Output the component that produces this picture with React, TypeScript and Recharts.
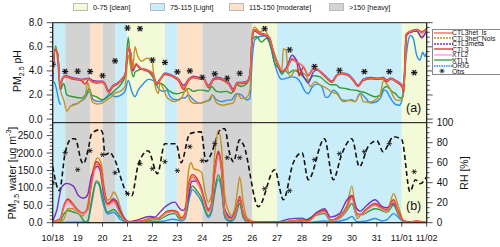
import React from "react";
import { ComposedChart, Line, Scatter, XAxis, YAxis, ReferenceArea } from "recharts";

type P = [number, number | null];

// x axis: days since 10/18 00:00
const dayTicks = [0, 1, 2, 3, 4, 5, 6, 7, 8, 9, 10, 11, 12, 13, 14, 15];
const dayLabels = ["10/18", "19", "20", "21", "22", "23", "24", "25", "26", "27", "28", "29", "30", "31", "11/01", "11/02"];

const phMajor = [0, 2, 4, 6, 8];
const phMinor = [0, 0.4, 0.8, 1.2, 1.6, 2, 2.4, 2.8, 3.2, 3.6, 4, 4.4, 4.8, 5.2, 5.6, 6, 6.4, 6.8, 7.2, 7.6, 8];
const waterMajor = [0, 50, 100, 150, 200, 250];
const waterMinor = [0, 10, 20, 30, 40, 50, 60, 70, 80, 90, 100, 110, 120, 130, 140, 150, 160, 170, 180, 190, 200, 210, 220, 230, 240, 250, 260, 270, 280];
const rhMajor = [0, 20, 40, 60, 80, 100];
const rhMinor = [0, 5, 10, 15, 20, 25, 30, 35, 40, 45, 50, 55, 60, 65, 70, 75, 80, 85, 90, 95, 100];

// pollution level bands: [start day, end day, level]
const bands: [number, number, string][] = [
  [0, 0.5, "light"], [0.5, 1.5, "heavy"], [1.5, 2, "moderate"], [2, 2.5, "heavy"],
  [2.5, 3, "light"], [3, 4.5, "clean"], [4.5, 5, "light"], [5, 6, "moderate"],
  [6, 8, "heavy"], [8, 9, "clean"], [9, 14, "light"], [14, 15, "clean"],
];
const bandColors: Record<string, string> = { clean: "#f3fad7", light: "#c9eefa", moderate: "#fde2c9", heavy: "#d3d3d3" };
const bandLegend = [
  { key: "clean", label: "0-75 [clean]", x: 73 },
  { key: "light", label: "75-115 [Light]", x: 150 },
  { key: "moderate", label: "115-150 [moderate]", x: 229 },
  { key: "heavy", label: ">150 [heavy]", x: 329 },
];

// ---- PM2.5 pH ----
const phLs: P[] = [[0,3.9],[0.1,5.85],[0.2,5.45],[0.3,2.6],[0.38,3.3],[0.5,3.55],[0.75,3.4],[1,3.3],[1.2,3.25],[1.45,3.35],[1.6,3.1],[1.8,3.05],[2,3.1],[2.1,2.85],[2.25,2.25],[2.4,2.7],[2.6,2.95],[2.8,3.35],[2.92,3.8],[3.03,6.0],[3.12,5.6],[3.22,4.2],[3.35,4.6],[3.5,4.25],[3.7,4.1],[3.9,3.95],[4.03,3.65],[4.17,2.95],[4.3,3.25],[4.5,3.75],[4.7,3.65],[4.9,3.45],[5.05,3.25],[5.25,2.6],[5.45,3.25],[5.65,3.5],[5.85,3.4],[6.05,3.35],[6.25,2.7],[6.45,3.3],[6.65,3.4],[6.85,3.25],[7.05,2.95],[7.25,2.4],[7.4,3.0],[7.6,3.0],[7.8,3.1],[7.92,3.8],[8,6.7],[8.1,7.4],[8.3,7.1],[8.5,7.0],[8.7,6.7],[8.85,5.6],[9,4.7],[9.2,4.0],[9.4,4.3],[9.6,5.0],[9.8,4.7],[10.05,4.35],[10.25,3.65],[10.45,4.2],[10.6,4.15],[10.8,3.8],[11,3.4],[11.2,3.1],[11.4,3.65],[11.6,3.8],[11.85,3.65],[12.05,3.25],[12.25,2.75],[12.45,3.25],[12.75,3.4],[13.05,3.35],[13.25,3.4],[13.4,3.2],[13.55,3.35],[13.8,3.1],[14,2.8],[14.08,2.4],[14.18,7.0],[14.35,7.25],[14.6,7.4],[14.8,7.2],[15,7.5]];
const phCtl3: P[] = [[0,3.8],[0.1,5.8],[0.2,5.4],[0.3,2.55],[0.38,3.25],[0.5,3.5],[0.75,3.35],[1,3.25],[1.15,3.2],[1.3,2.9],[1.45,3.3],[1.6,3.05],[1.8,3.0],[2,3.05],[2.1,2.8],[2.25,2.2],[2.4,2.65],[2.6,2.9],[2.8,3.3],[2.92,3.75],[3.03,5.95],[3.12,5.55],[3.22,4.15],[3.35,4.55],[3.5,4.2],[3.7,4.05],[3.9,3.9],[4.03,3.6],[4.17,2.9],[4.3,3.2],[4.5,3.7],[4.7,3.6],[4.9,3.4],[5.05,3.15],[5.25,2.45],[5.45,3.2],[5.65,3.45],[5.85,3.35],[6.05,3.3],[6.25,2.6],[6.45,3.25],[6.65,3.35],[6.85,3.2],[7.05,2.9],[7.25,2.3],[7.4,2.95],[7.6,2.95],[7.8,3.05],[7.92,3.75],[8,6.75],[8.1,7.45],[8.3,7.15],[8.5,7.05],[8.7,6.75],[8.85,5.6],[9,4.65],[9.2,3.95],[9.4,4.25],[9.6,4.95],[9.8,4.65],[9.88,3.6],[10.05,4.3],[10.25,3.6],[10.45,4.15],[10.6,4.1],[10.8,3.75],[11,3.35],[11.2,3.05],[11.4,3.6],[11.6,3.75],[11.85,3.6],[12.05,3.2],[12.25,2.7],[12.45,3.2],[12.75,3.35],[13.05,3.3],[13.25,3.35],[13.4,3.1],[13.55,3.3],[13.8,3.05],[14,2.7],[14.08,2.25],[14.18,7.05],[14.35,7.3],[14.6,7.45],[14.8,7.25],[15,7.55]];
const phXtl2: P[] = [[0,3.7],[0.1,5.75],[0.2,5.4],[0.3,2.7],[0.38,3.4],[0.5,3.6],[0.75,3.45],[1,3.35],[1.2,3.3],[1.45,3.4],[1.6,3.15],[1.8,3.1],[2,3.15],[2.1,2.9],[2.25,2.35],[2.4,2.75],[2.6,3.0],[2.8,3.4],[2.92,3.85],[3.03,5.9],[3.12,5.5],[3.22,4.25],[3.35,4.6],[3.5,4.3],[3.7,4.15],[3.9,4.0],[4.03,3.7],[4.17,3.0],[4.3,3.3],[4.5,3.8],[4.7,3.7],[4.9,3.5],[5.05,3.3],[5.25,2.7],[5.45,3.3],[5.65,3.55],[5.85,3.45],[6.05,3.4],[6.25,2.75],[6.45,3.35],[6.65,3.45],[6.85,3.3],[7.05,3.0],[7.25,2.45],[7.4,3.05],[7.6,3.05],[7.8,3.15],[7.92,3.85],[8,6.6],[8.1,7.3],[8.3,7.05],[8.5,6.95],[8.7,6.65],[8.85,5.55],[9,4.7],[9.2,4.05],[9.4,4.35],[9.6,5.05],[9.8,4.75],[10.05,4.4],[10.25,3.7],[10.45,4.25],[10.6,4.2],[10.8,3.85],[11,3.45],[11.2,3.15],[11.4,3.7],[11.6,3.85],[11.85,3.7],[12.05,3.3],[12.25,2.8],[12.45,3.3],[12.75,3.45],[13.05,3.4],[13.25,3.45],[13.4,3.25],[13.55,3.4],[13.8,3.15],[14,2.85],[14.08,2.45],[14.18,6.95],[14.35,7.2],[14.6,7.35],[14.8,7.1],[15,7.4]];
const phMeta: P[] = [[0,3.2],[0.1,5.7],[0.2,5.4],[0.3,2.7],[0.38,3.35],[0.5,3.6],[0.75,3.45],[1,3.35],[1.2,3.3],[1.45,3.4],[1.6,3.2],[1.8,3.15],[2,3.15],[2.1,2.95],[2.25,2.35],[2.4,2.75],[2.6,3.0],[2.8,3.4],[2.92,3.85],[3.03,5.9],[3.12,5.5],[3.22,4.0],[3.35,4.5],[3.5,4.2],[3.7,4.1],[3.9,3.95],[4.03,3.7],[4.17,3.0],[4.3,3.3],[4.5,3.8],[4.7,3.7],[4.9,3.5],[5.05,3.3],[5.25,2.8],[5.45,3.3],[5.65,3.55],[5.85,3.45],[6.05,3.4],[6.25,2.8],[6.45,3.35],[6.65,3.45],[6.85,3.3],[7.05,3.05],[7.25,2.5],[7.4,3.05],[7.6,3.05],[7.8,3.15],[7.92,3.85],[8,6.6],[8.1,7.3],[8.3,7.05],[8.5,6.95],[8.7,6.6],[8.85,5.5],[9,4.6],[9.2,3.9],[9.4,4.4],[9.6,5.3],[9.8,4.8],[10.05,3.6],[10.25,3.0],[10.45,3.9],[10.6,4.1],[10.8,3.85],[11,3.45],[11.2,3.15],[11.4,3.7],[11.6,3.8],[11.85,3.7],[12.05,3.3],[12.25,2.8],[12.45,3.3],[12.75,3.45],[13.05,3.4],[13.25,3.45],[13.4,3.25],[13.55,3.4],[13.8,3.15],[14,2.85],[14.08,2.5],[14.18,6.9],[14.35,7.2],[14.6,7.3],[14.8,6.75],[15,7.35]];
const phNols: P[] = [[0,3.7],[0.1,5.8],[0.2,5.3],[0.3,2.5],[0.44,1.6],[0.57,0.65],[0.7,1.05],[0.9,1.2],[1.1,1.45],[1.3,1.85],[1.4,3.0],[1.48,2.5],[1.58,1.45],[1.78,1.25],[1.97,1.3],[2.17,1.6],[2.37,1.85],[2.5,2.15],[2.7,2.3],[2.9,2.7],[3.03,5.3],[3.13,4.3],[3.2,3.9],[3.3,6.0],[3.4,5.3],[3.57,4.8],[3.77,5.05],[3.97,4.95],[4.1,2.85],[4.24,2.15],[4.3,3.0],[4.44,2.5],[4.57,1.85],[4.7,1.6],[4.9,1.45],[5.15,1.7],[5.37,2.5],[5.5,1.6],[5.7,1.3],[5.97,1.35],[6.24,1.55],[6.4,2.0],[6.57,1.35],[6.84,1.15],[7.04,1.25],[7.24,1.35],[7.41,2.1],[7.57,1.7],[7.78,1.8],[7.91,2.4],[8,7.1],[8.1,7.65],[8.3,7.25],[8.5,7.4],[8.7,6.6],[8.9,5.4],[9.03,4.7],[9.19,4.05],[9.25,5.85],[9.36,5.7],[9.42,4.3],[9.52,3.5],[9.72,4.05],[9.92,4.1],[10.05,3.8],[10.19,3.5],[10.32,2.7],[10.52,3.1],[10.72,2.85],[10.99,2.55],[11.19,2.25],[11.39,2.1],[11.66,1.45],[11.92,1.55],[12.12,1.45],[12.33,2.1],[12.46,1.45],[12.66,1.4],[12.86,1.5],[13.13,2.0],[13.27,3.2],[13.37,3.0],[13.53,2.5],[13.66,1.9],[13.8,1.55],[14,1.6],[14.13,3.8],[14.2,7.0],[14.4,7.3],[14.6,7.35],[14.8,6.85],[15,7.3]];
const phXtl1: P[] = [[0,4.0],[0.12,6.1],[0.22,4.4],[0.3,2.4],[0.44,2.95],[0.57,2.0],[0.83,1.85],[1.16,1.75],[1.36,2.15],[1.47,2.55],[1.56,2.0],[1.76,1.85],[1.96,1.6],[2.17,1.8],[2.3,2.0],[2.5,2.4],[2.7,2.8],[2.9,3.5],[3.03,6.8],[3.13,4.35],[3.24,3.5],[3.3,3.9],[3.43,4.05],[3.64,4.2],[3.84,3.95],[4.04,3.4],[4.17,2.85],[4.28,3.0],[4.44,2.85],[4.57,2.55],[4.7,2.3],[4.97,2.1],[5.17,2.2],[5.3,2.3],[5.44,2.55],[5.64,2.3],[5.84,2.4],[6.04,2.4],[6.24,2.3],[6.37,2.7],[6.57,2.3],[6.77,2.25],[6.97,2.3],[7.17,2.15],[7.37,2.85],[7.57,2.7],[7.78,2.95],[7.91,3.5],[8,6.55],[8.17,6.85],[8.37,6.4],[8.57,6.7],[8.78,5.75],[8.9,4.65],[9.05,4.25],[9.19,3.7],[9.32,4.05],[9.45,3.8],[9.65,4.05],[9.85,3.9],[10.05,3.5],[10.25,3.2],[10.45,3.6],[10.72,3.5],[10.95,3.1],[11.15,2.85],[11.35,2.85],[11.52,2.6],[11.72,2.55],[11.92,2.45],[12.12,2.4],[12.33,2.3],[12.53,2.2],[12.73,2.0],[12.93,1.85],[13.13,2.0],[13.27,2.55],[13.4,2.7],[13.6,2.3],[13.73,2.15],[13.93,1.75],[14.06,1.9],[14.17,7.0],[14.4,7.25],[14.6,7.35],[14.8,7.2],[15,7.45]];
const phOrig: P[] = [[0,3.1],[0.08,3.0],[0.16,2.4],[0.27,1.35],[0.33,1.2],[0.5,null],[0.78,1.2],[0.95,1.25],[1.1,1.45],[1.3,1.75],[1.47,2.3],[1.63,1.6],[1.9,1.45],[2.1,1.7],[2.3,2.1],[2.5,1.85],[2.7,1.95],[2.9,2.3],[3.03,3.2],[3.17,2.3],[3.3,1.85],[3.43,2.4],[3.64,2.95],[3.84,3.3],[4.04,3.2],[4.17,2.8],[4.3,2.4],[4.44,2.3],[4.57,2.4],[4.7,1.9],[4.84,1.65],[5.04,1.6],[5.17,1.75],[5.3,1.75],[5.44,2.0],[5.64,1.6],[5.9,1.3],[6.1,1.45],[6.3,1.55],[6.4,2.0],[6.57,1.6],[6.77,1.45],[6.97,1.55],[7.17,1.6],[7.37,2.1],[7.57,2.0],[7.78,1.6],[7.91,1.7],[8,4.9],[8.1,6.55],[8.3,6.85],[8.5,6.9],[8.7,6.3],[8.9,4.6],[9.05,3.65],[9.19,3.3],[9.39,3.4],[9.59,3.5],[9.79,3.4],[9.92,3.1],[10.12,2.3],[10.25,2.1],[10.39,2.6],[10.6,2.9],[10.79,2.7],[10.95,1.8],[11.06,1.85],[11.26,2.4],[11.4,2.2],[11.6,1.6],[11.8,1.55],[12,1.6],[12.13,1.45],[12.33,2.15],[12.53,1.8],[12.73,1.35],[12.93,1.4],[13.13,1.7],[13.3,2.4],[13.4,2.3],[13.53,1.8],[13.73,1.25],[13.9,1.15],[14,1.5],[14.13,4.3],[14.27,6.6],[14.35,6.95],[14.46,6.7],[14.6,5.3],[14.73,4.9],[14.84,5.55],[14.93,5.2],[15,5.6]];
const phObs: P[] = [[0,4.55],[0.5,3.95],[1,3.97],[1.5,3.95],[2,3.6],[2.5,4.83],[3,7.56],[3.5,7.5],[4,4.9],[4.5,4.7],[5,3.92],[5.5,4.0],[6,3.47],[6.5,3.75],[7,3.39],[7.5,3.8],[8.5,7.5],[9.5,5.75],[10.5,4.36],[11.5,4.05],[12.5,3.94],[13.5,3.94],[14.5,3.86]];

// ---- PM2.5 water (ug m-3) ----
const wLs: P[] = [[0,3],[0.3,11],[0.45,47],[0.6,64],[0.8,52],[1,35],[1.2,27],[1.4,38],[1.55,110],[1.75,168],[1.9,158],[2.05,96],[2.2,52],[2.45,62],[2.7,28],[2.9,7],[3.05,2],[3.5,4],[3.8,9],[4,13],[4.2,11],[4.4,21],[4.6,31],[4.8,33],[5,28],[5.15,11],[5.3,21],[5.45,104],[5.6,131],[5.8,119],[5.97,92],[6.1,57],[6.24,33],[6.37,52],[6.5,142],[6.64,195],[6.77,152],[6.9,33],[7.04,14],[7.17,11],[7.3,24],[7.5,71],[7.64,28],[7.78,7],[8,2],[9,1],[9.5,4],[10,7],[10.2,4],[10.6,25],[10.9,33],[11.15,7],[11.5,15],[11.8,43],[12,73],[12.2,25],[12.33,23],[12.6,38],[12.93,52],[13.2,41],[13.4,35],[13.67,63],[13.87,28],[14.07,5],[14.3,1],[14.6,5],[14.8,2],[15,0]];
const wCtl3: P[] = [[0,3],[0.3,12],[0.45,50],[0.6,68],[0.8,55],[1,37],[1.2,28],[1.4,40],[1.55,115],[1.75,175],[1.9,165],[2.05,100],[2.2,55],[2.45,65],[2.7,30],[2.9,8],[3.05,2],[3.5,4],[3.8,10],[4,14],[4.2,12],[4.4,22],[4.6,33],[4.8,35],[5,30],[5.15,12],[5.3,22],[5.45,110],[5.6,138],[5.8,125],[5.97,97],[6.1,60],[6.24,35],[6.37,55],[6.5,150],[6.64,205],[6.77,160],[6.9,35],[7.04,15],[7.17,12],[7.3,25],[7.5,75],[7.64,30],[7.78,8],[8,2],[9,1],[9.5,4],[10,8],[10.2,4],[10.6,26],[10.9,35],[11.15,8],[11.5,16],[11.8,45],[12,78],[12.2,26],[12.33,24],[12.6,40],[12.93,55],[13.2,43],[13.4,37],[13.67,66],[13.87,30],[14.07,5],[14.3,1],[14.6,5],[14.8,2],[15,0]];
const wXtl2: P[] = [[0,2],[0.3,10],[0.45,42],[0.6,58],[0.8,48],[1,32],[1.2,24],[1.4,34],[1.55,100],[1.75,158],[1.9,150],[2.05,90],[2.2,48],[2.45,57],[2.7,26],[2.9,7],[3.05,2],[3.5,3],[3.8,8],[4,12],[4.2,10],[4.4,19],[4.6,29],[4.8,31],[5,26],[5.15,10],[5.3,19],[5.45,96],[5.6,124],[5.8,112],[5.97,86],[6.1,52],[6.24,30],[6.37,48],[6.5,132],[6.64,185],[6.77,144],[6.9,30],[7.04,12],[7.17,10],[7.3,21],[7.5,68],[7.64,26],[7.78,6],[8,2],[9,1],[9.5,3],[10,7],[10.2,3],[10.6,23],[10.9,31],[11.15,6],[11.5,14],[11.8,40],[12,70],[12.2,22],[12.33,21],[12.6,36],[12.93,50],[13.2,39],[13.4,33],[13.67,62],[13.87,27],[14.07,4],[14.3,1],[14.6,4],[14.8,2],[15,0]];
const wMeta: P[] = [[0,5],[0.16,35],[0.36,102],[0.56,113],[0.83,105],[1.03,78],[1.23,70],[1.39,78],[1.56,136],[1.8,162],[1.9,150],[2.03,88],[2.17,55],[2.3,59],[2.43,69],[2.56,62],[2.7,35],[2.9,11],[3.1,3],[3.37,7],[3.64,14],[3.9,18],[4.1,16],[4.3,30],[4.5,45],[4.7,55],[4.9,59],[5.1,40],[5.24,35],[5.44,73],[5.57,118],[5.75,120],[5.9,110],[6.1,64],[6.24,38],[6.37,52],[6.5,150],[6.64,200],[6.77,155],[6.9,38],[7.04,20],[7.17,15],[7.3,28],[7.5,65],[7.64,28],[7.78,8],[8,2],[9,2],[9.5,11],[10,13],[10.2,8],[10.6,30],[10.9,40],[11.15,16],[11.5,26],[11.8,65],[12,78],[12.2,40],[12.33,33],[12.6,50],[12.93,66],[13.2,47],[13.4,43],[13.67,55],[13.87,30],[14.07,6],[14.3,2],[15,0]];
const wNols: P[] = [[0,3],[0.3,3],[0.45,10],[0.6,40],[0.8,40],[1,30],[1.2,20],[1.35,35],[1.5,93],[1.65,160],[1.8,186],[1.95,170],[2.05,110],[2.2,65],[2.3,68],[2.45,88],[2.6,70],[2.75,35],[2.9,10],[3.05,2],[3.5,3],[3.8,8],[4,15],[4.2,12],[4.4,22],[4.6,33],[4.8,35],[5,32],[5.15,15],[5.3,25],[5.45,150],[5.55,172],[5.65,155],[5.85,150],[5.97,145],[6.1,93],[6.24,59],[6.37,78],[6.5,198],[6.64,265],[6.77,217],[6.9,78],[7.04,35],[7.17,21],[7.3,40],[7.44,107],[7.5,131],[7.64,59],[7.78,16],[7.98,5],[8.2,2],[9,1],[9.5,4],[10,8],[10.2,5],[10.6,30],[10.9,37],[11.15,6],[11.5,21],[11.8,50],[12,105],[12.2,11],[12.33,20],[12.6,40],[12.93,50],[13.2,38],[13.4,30],[13.67,83],[13.87,45],[14.07,5],[14.3,1],[14.6,3],[15,0]];
const wXtl1: P[] = [[0,2],[0.3,5],[0.45,25],[0.6,35],[0.85,30],[1.05,25],[1.2,10],[1.3,2],[1.4,5],[1.55,60],[1.75,120],[1.85,115],[2,75],[2.2,30],[2.45,38],[2.7,18],[2.9,5],[3.05,1],[3.8,5],[4,8],[4.3,10],[4.6,22],[4.9,26],[5.1,10],[5.3,15],[5.5,90],[5.6,105],[5.8,90],[5.97,70],[6.1,40],[6.24,20],[6.37,35],[6.5,95],[6.64,137],[6.77,105],[6.9,20],[7.04,8],[7.17,6],[7.3,15],[7.5,55],[7.64,18],[7.78,4],[8,1],[9.5,2],[10,5],[10.6,22],[10.9,26],[11.15,4],[11.5,12],[11.8,35],[12,55],[12.2,20],[12.4,22],[12.93,40],[13.2,35],[13.4,30],[13.67,50],[13.87,22],[14.07,3],[15,0]];
const wOrig: P[] = [[0,1],[1.4,2],[1.55,50],[1.75,115],[1.85,110],[2,60],[2.2,25],[2.45,30],[2.7,10],[2.9,3],[3.05,0],[4,3],[4.5,5],[4.8,10],[5,8],[5.15,5],[5.3,10],[5.5,75],[5.6,95],[5.8,80],[5.97,60],[6.1,35],[6.24,15],[6.37,30],[6.5,85],[6.64,125],[6.77,95],[6.9,15],[7.04,5],[7.17,4],[7.3,12],[7.5,55],[7.64,15],[7.78,3],[8,0],[10,2],[10.1,6],[10.25,1],[10.9,5],[11.15,2],[11.8,10],[12,18],[12.2,3],[12.6,5],[12.93,12],[13.2,5],[13.4,8],[13.67,26],[13.87,15],[14.07,2],[15,0]];

// ---- RH (%) ----
const rhModel: P[] = [[0,56],[0.27,32],[0.5,70],[0.76,84],[0.9,84],[1.16,61],[1.23,59],[1.43,74],[1.56,89],[1.9,93],[2,90],[2.1,68],[2.3,70],[2.43,66],[2.97,30],[3.17,27],[3.43,58],[3.83,72],[4.2,49],[4.5,79],[4.95,79],[5.15,60],[5.5,89],[5.95,91],[6.15,61],[6.3,66],[6.78,94],[6.9,94],[7.1,69],[7.25,61],[7.5,83],[7.65,78],[8.25,16],[8.9,53],[9.25,23],[9.65,60],[10,70],[10.25,43],[10.9,84],[11.25,43],[11.6,69],[12,84],[12.3,56],[12.65,76],[13,82],[13.25,71],[13.67,86],[14,83],[14.33,31],[14.55,43],[14.73,39],[15,46]];
const rhObs: P[] = [[0,40],[0.5,70],[1,53],[1.5,72],[2,68],[2.5,50],[3,29],[3.5,59],[4,54],[4.5,61],[5,52],[5.5,76],[6,62],[6.5,79],[7,65],[7.5,65],[8.5,34],[9.5,32],[10.5,63],[11.5,69],[12.5,71],[13.5,79],[14.5,51]];

const series = [
  { name: "ORIG", color: "#2b8fea", ph: phOrig, w: wOrig, dash: "1.6 0.8" },
  { name: "XTL1", color: "#2e9a36", ph: phXtl1, w: wXtl1 },
  { name: "CTL3het_Nols", color: "#c39220", ph: phNols, w: wNols, dash: "2 1" },
  { name: "XTL2", color: "#e2a0e6", ph: phXtl2, w: wXtl2 },
  { name: "CTL3meta", color: "#7a2fc2", ph: phMeta, w: wMeta, dash: "2 1" },
  { name: "CTL3", color: "#e2262b", ph: phCtl3, w: wCtl3 },
  { name: "CTL3het_ls", color: "#f2683e", ph: phLs, w: wLs },
];
const legendOrder = ["CTL3het_ls", "CTL3het_Nols", "CTL3meta", "CTL3", "XTL2", "XTL1", "ORIG"];

const rows = (pts: P[]) => pts.map(([t, v]) => ({ t, v }));
const FONT = "'Liberation Sans', Arial, Helvetica, sans-serif";

const yTick = (majors: number[], side: "left" | "right", fmt?: (v: number) => string) => (props: any) => {
  const { x, y, payload } = props;
  const major = majors.includes(payload.value);
  const len = major ? 6 : 3;
  const s = side === "left" ? -1 : 1;
  return (
    <g>
      <line x1={x} x2={x + s * len} y1={y} y2={y} stroke="#222" strokeWidth={0.8} />
      {major && fmt && (
        <text x={x + s * (len + 4)} y={y} textAnchor={side === "left" ? "end" : "start"} dominantBaseline="central" fontSize={10} fill="#111" fontFamily={FONT}>
          {fmt(payload.value)}
        </text>
      )}
    </g>
  );
};

const xTick = (props: any) => {
  const { x, y, payload } = props;
  return (
    <g>
      <line x1={x} x2={x} y1={y} y2={y + 4} stroke="#222" strokeWidth={0.8} />
      <text x={x} y={y + 15} textAnchor="middle" dominantBaseline="central" fontSize={9} fill="#111" fontFamily={FONT}>
        {dayLabels[dayTicks.indexOf(payload.value)]}
      </text>
    </g>
  );
};

const Star = (props: any) => {
  const { cx, cy, bold } = props;
  if (cx == null || cy == null) return null;
  const r = bold ? 3 : 2.6;
  return (
    <g stroke="#111" strokeWidth={bold ? 1.1 : 0.9}>
      {bold && <rect x={cx - 3} y={cy - 2.6} width={6} height={5.2} fill="#9a9a9a" fillOpacity={0.55} stroke="none" />}
      <line x1={cx - r} y1={cy} x2={cx + r} y2={cy} />
      <line x1={cx - r * 0.5} y1={cy - r * 0.87} x2={cx + r * 0.5} y2={cy + r * 0.87} />
      <line x1={cx - r * 0.5} y1={cy + r * 0.87} x2={cx + r * 0.5} y2={cy - r * 0.87} />
    </g>
  );
};

const Bands = (yId: string, y1: number, y2: number) =>
  bands.map(([a, b, k], i) => (
    <ReferenceArea key={"b" + i} yAxisId={yId} x1={a} x2={b} y1={y1} y2={y2} fill={bandColors[k]} fillOpacity={1} stroke="none" />
  ));

const vlabel = (left: number, center: number, width = 120): React.CSSProperties => ({
  position: "absolute",
  left: left - width / 2,
  top: center - 7,
  width,
  height: 14,
  textAlign: "center",
  fontSize: 10.5,
  lineHeight: "14px",
  transform: "rotate(-90deg)",
  whiteSpace: "nowrap",
});

export default function App() {
  return (
    <div style={{ position: "fixed", left: 0, top: 0, width: 500, height: 247, background: "#fff", fontFamily: FONT, color: "#111", overflow: "hidden" }}>
      {/* top panel: pH */}
      <div style={{ position: "absolute", left: 0, top: 0 }}>
        <ComposedChart width={500} height={125} margin={{ top: 22.7, right: 63.3, bottom: 2.3, left: 0 }}>
          <XAxis dataKey="t" type="number" domain={[0, 15]} hide allowDataOverflow />
          <YAxis yAxisId="ph" domain={[-0.3, 8]} ticks={phMinor} interval={0} width={52.7} tickSize={0} tickMargin={0} tickLine={false} axisLine={{ stroke: "#222" }} tick={yTick(phMajor, "left", (v) => v.toFixed(1))} allowDataOverflow />
          <YAxis yAxisId="phr" orientation="right" domain={[-0.3, 8]} ticks={phMinor} interval={0} width={10} tickSize={0} tickMargin={0} tickLine={false} axisLine={{ stroke: "#222" }} tick={yTick(phMajor, "right")} allowDataOverflow />
          {Bands("ph", -0.3, 8)}
          {series.map((s) => (
            <Line key={s.name} yAxisId="ph" data={rows(s.ph)} dataKey="v" type="monotone" stroke={s.color} strokeWidth={1.4} dot={false} isAnimationActive={false} connectNulls={false} />
          ))}
          <Scatter yAxisId="ph" data={rows(phObs)} dataKey="v" shape={(p: any) => <Star {...p} bold />} isAnimationActive={false} />
          <ReferenceArea yAxisId="ph" x1={0} x2={15} y1={-0.3} y2={8} fill="none" stroke="#222" strokeWidth={1} />
        </ComposedChart>
      </div>

      {/* bottom panel: water + RH */}
      <div style={{ position: "absolute", left: 0, top: 110 }}>
        <ComposedChart width={500} height={137} margin={{ top: 12.7, right: 23.3, bottom: 0, left: 0 }}>
          <XAxis dataKey="t" type="number" domain={[0, 15]} ticks={dayTicks} interval={0} height={24.3} tickSize={0} tickMargin={0} tickLine={false} axisLine={{ stroke: "#222" }} tick={xTick} allowDataOverflow />
          <YAxis yAxisId="w" domain={[0, 287]} ticks={waterMinor} interval={0} width={52.7} tickSize={0} tickMargin={0} tickLine={false} axisLine={{ stroke: "#222" }} tick={yTick(waterMajor, "left", (v) => v.toFixed(1))} allowDataOverflow />
          <YAxis yAxisId="rh" orientation="right" domain={[0, 100]} ticks={rhMinor} interval={0} width={50} tickSize={0} tickMargin={0} tickLine={false} axisLine={{ stroke: "#222" }} tick={yTick(rhMajor, "right", (v) => String(v))} allowDataOverflow />
          {Bands("w", 0, 287)}
          <Line yAxisId="rh" data={rows(rhModel)} dataKey="v" type="monotone" stroke="#111" strokeWidth={1.6} strokeDasharray="5 3" dot={false} isAnimationActive={false} />
          {series.map((s) => (
            <Line key={s.name} yAxisId="w" data={rows(s.w)} dataKey="v" type="monotone" stroke={s.color} strokeWidth={1.4} dot={false} isAnimationActive={false} />
          ))}
          <Scatter yAxisId="rh" data={rows(rhObs)} dataKey="v" shape={(p: any) => <Star {...p} />} isAnimationActive={false} />
          <ReferenceArea yAxisId="w" x1={0} x2={15} y1={0} y2={287} fill="none" stroke="#222" strokeWidth={1} />
        </ComposedChart>
      </div>

      {/* band legend */}
      {bandLegend.map((b) => (
        <div key={b.key} style={{ position: "absolute", left: b.x, top: 2, height: 10, display: "flex", alignItems: "center", fontSize: 7.2, whiteSpace: "nowrap" }}>
          <span style={{ display: "inline-block", width: 15, height: 8, background: bandColors[b.key], border: "0.6px solid #bbb", boxSizing: "border-box", marginRight: 5 }} />
          {b.label}
        </div>
      ))}

      {/* series legend */}
      <div style={{ position: "absolute", left: 432, top: 29, width: 70, height: 46, background: "#fff", border: "0.8px solid #888", boxSizing: "border-box" }} />
      {legendOrder.map((n, i) => {
        const s = series.find((q) => q.name === n)!;
        const cy = 32.7 + i * 5.5;
        return (
          <div key={n} style={{ position: "absolute", left: 434, top: cy - 4, height: 8, display: "flex", alignItems: "center", fontSize: 6.8, whiteSpace: "nowrap" }}>
            <svg width={19} height={8} style={{ display: "block" }}>
              <line x1={0} x2={19} y1={4} y2={4} stroke={s.color} strokeWidth={1.3} strokeDasharray={s.dash} />
            </svg>
            <span style={{ marginLeft: -1 }}>{n}</span>
          </div>
        );
      })}
      <div style={{ position: "absolute", left: 434, top: 32.7 + 7 * 5.5 - 4, height: 8, display: "flex", alignItems: "center", fontSize: 6.8 }}>
        <svg width={19} height={8} style={{ display: "block" }}>
          <Star cx={8} cy={4} />
        </svg>
        <span style={{ marginLeft: -1 }}>Obs</span>
      </div>

      {/* axis titles */}
      <div style={vlabel(17, 71)}>
        PM<sub style={{ fontSize: 7 }}>2.5</sub> pH
      </div>
      <div style={vlabel(9, 172.7, 130)}>
        PM<sub style={{ fontSize: 7 }}>2.5</sub> water [ug m<sup style={{ fontSize: 7 }}>-3</sup>]
      </div>
      <div style={vlabel(464, 172.7)}>RH [%]</div>

      <div style={{ position: "absolute", left: 406, top: 101, fontSize: 12.5 }}>(a)</div>
      <div style={{ position: "absolute", left: 406, top: 199, fontSize: 12.5 }}>(b)</div>
    </div>
  );
}
